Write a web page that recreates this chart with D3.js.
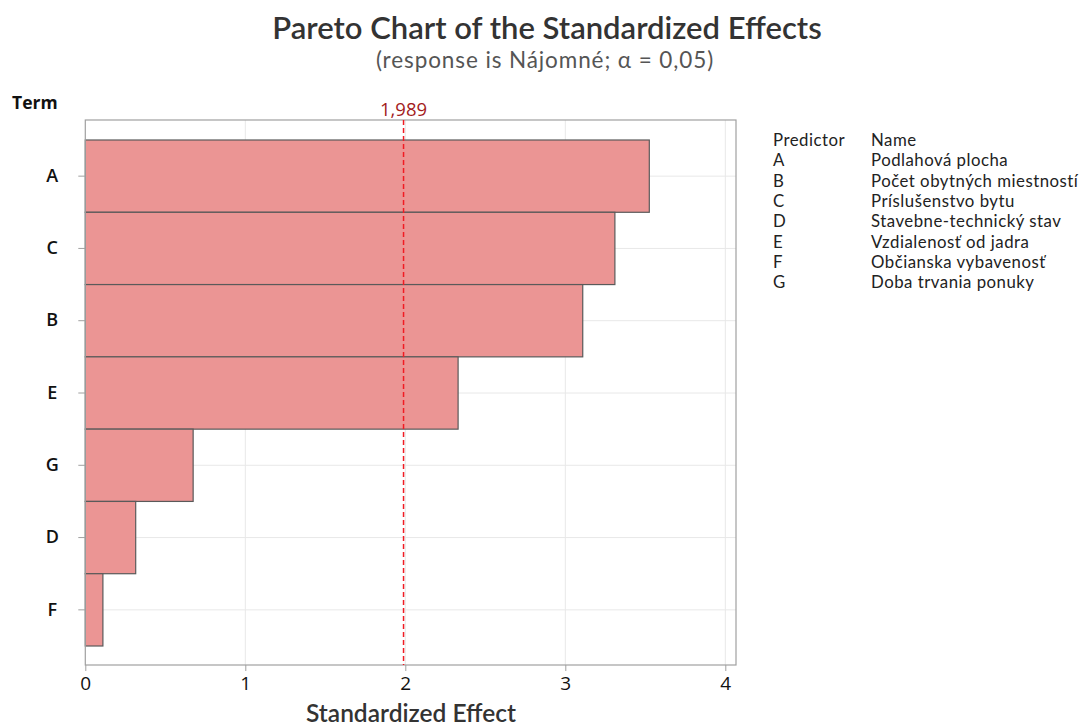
<!DOCTYPE html>
<html><head><meta charset="utf-8">
<script src="https://cdn.jsdelivr.net/npm/d3@7"></script>
<style>body{margin:0;background:#fff;}</style>
</head><body><svg id="c" width="1082" height="727"></svg>
<script>
const terms = ["A","C","B","E","G","D","F"];
const effects = [3.525, 3.31, 3.109, 2.33, 0.674, 0.315, 0.11];
const xTicks = [0,1,2,3,4];
const threshold = 1.989;
const thresholdLabel = "1,989";
const predictors = ["A","B","C","D","E","F","G"];
const names = ["Podlahová plocha","Počet obytných miestností","Príslušenstvo bytu","Stavebne-technický stav","Vzdialenosť od jadra","Občianska vybavenosť","Doba trvania ponuky"];

const OPEN = "'Open Sans','Noto Sans',sans-serif";
const LATO = "Lato,'Open Sans',sans-serif";
const svg = d3.select("#c");
const fL = 85.3, fR = 736, fT = 120, fB = 665;
const x = d3.scaleLinear().domain([0, 4]).range([85.3, 725.3]);
const y = d3.scaleBand().domain(terms).range([140, 646]).padding(0);

// gridlines
svg.append("g").selectAll("line.v").data(xTicks.slice(1)).join("line")
  .attr("x1", d=>x(d)).attr("x2", d=>x(d)).attr("y1", fT).attr("y2", fB)
  .attr("stroke", "#e8e8e8").attr("stroke-width", 1);
svg.append("g").selectAll("line.h").data(terms).join("line")
  .attr("x1", fL).attr("x2", fR).attr("y1", d=>y(d)+y.bandwidth()/2).attr("y2", d=>y(d)+y.bandwidth()/2)
  .attr("stroke", "#e8e8e8").attr("stroke-width", 1);

// bars
svg.append("g").selectAll("rect").data(terms).join("rect")
  .attr("x", x(0)).attr("y", d=>y(d))
  .attr("width", (d,i)=>x(effects[i])-x(0)).attr("height", y.bandwidth())
  .attr("fill", "#eb9594").attr("stroke", "#5a5a5a").attr("stroke-width", 1.2);

// frame
svg.append("rect").attr("x", fL).attr("y", fT).attr("width", fR-fL).attr("height", fB-fT)
  .attr("fill", "none").attr("stroke", "#a0a0a0").attr("stroke-width", 1.2);

// threshold
svg.append("line").attr("x1", x(threshold)).attr("x2", x(threshold)).attr("y1", fT).attr("y2", fB)
  .attr("stroke", "#f01c24").attr("stroke-width", 1.5).attr("stroke-dasharray", "5,3");
svg.append("text").attr("x", x(threshold)).attr("y", 116).attr("text-anchor", "middle")
  .style("font-family", OPEN).attr("fill", "#a31c1c").attr("font-size", 18.5).text(thresholdLabel);

// x axis
const xa = svg.append("g").attr("transform", `translate(0,${fB})`)
  .call(d3.axisBottom(x).tickValues(xTicks).tickFormat(d3.format("d")).tickSize(6).tickPadding(6));
xa.select(".domain").remove();
xa.selectAll("line").attr("stroke", "#a0a0a0");
xa.selectAll("text").attr("font-size", 19).attr("fill", "#111").style("font-family", OPEN);

// y axis
const ya = svg.append("g").attr("transform", `translate(${fL},0)`)
  .call(d3.axisLeft(y).tickSize(7).tickPadding(25));
ya.select(".domain").remove();
ya.selectAll("line").attr("stroke", "#a0a0a0");
ya.selectAll("text").attr("font-size", 18).attr("font-weight", 600).attr("fill", "#111").attr("text-anchor","middle")
  .attr("x", -33).style("font-family", OPEN);

svg.append("text").attr("x", 12).attr("y", 109).attr("font-size", 17.5).attr("font-weight", 700)
  .style("font-family", OPEN).attr("fill", "#111").text("Term");

// titles
svg.append("text").attr("x", 547).attr("y", 38.5).attr("text-anchor", "middle").attr("font-size", 31)
  .attr("font-weight", 600).style("font-family", LATO).attr("fill", "#333").text("Pareto Chart of the Standardized Effects");
svg.append("text").attr("x", 545).attr("y", 67.5).attr("text-anchor", "middle").attr("font-size", 22.5)
  .style("letter-spacing", "0.9px").style("font-family", LATO).attr("fill", "#555").text("(response is Nájomné; α = 0,05)");
svg.append("text").attr("x", 411).attr("y", 721.5).attr("text-anchor", "middle").attr("font-size", 24.5)
  .attr("font-weight", 600).style("font-family", LATO).attr("fill", "#333").text("Standardized Effect");

// legend table
const lg = svg.append("g").attr("fill", "#222");
const lsize = 16.8;
const ls = "0.5px";
lg.append("text").attr("x", 773).attr("y", 146).attr("font-size", lsize).style("letter-spacing", ls).style("font-family", LATO).text("Predictor");
lg.append("text").attr("x", 871).attr("y", 146).attr("font-size", lsize).style("letter-spacing", ls).style("font-family", LATO).text("Name");
lg.selectAll("text.p").data(predictors).join("text").attr("class","p")
  .attr("font-size", lsize).style("letter-spacing", ls).style("font-family", LATO)
  .attr("x", 773).attr("y", (d,i)=>146+(i+1)*20.3).text(d=>d);
lg.selectAll("text.n").data(names).join("text").attr("class","n")
  .attr("font-size", lsize).style("letter-spacing", ls).style("font-family", LATO)
  .attr("x", 871).attr("y", (d,i)=>146+(i+1)*20.3).text(d=>d);
</script></body></html>
